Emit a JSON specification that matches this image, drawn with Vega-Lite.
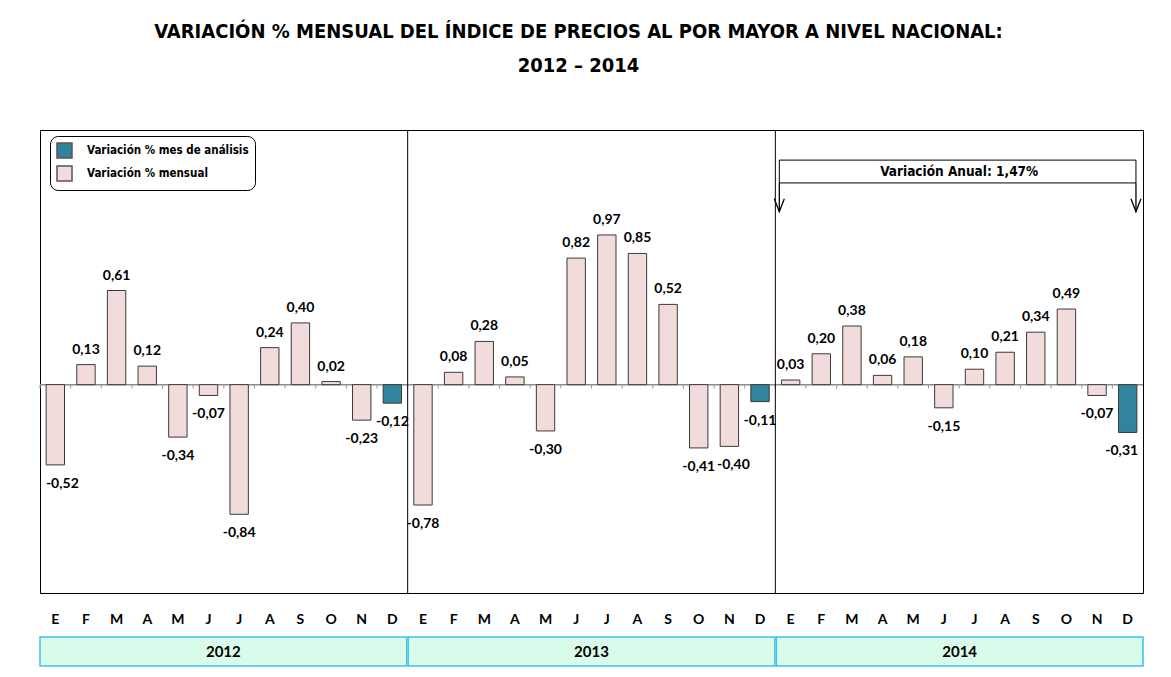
{
  "$schema": "https://vega.github.io/schema/vega-lite/v6.json",
  "padding": {"left": 38, "top": 22, "right": 28, "bottom": 5},
  "background": "white",
  "config": {
    "axisX": {"labelExpr": "['E','F','M','A','M','J','J','A','S','O','N','D'][toNumber(slice(datum.value,5))-1]",
      "ticks": false, "tickSize": 0, "domain": false, "labelAngle": 0, "grid": false,
      "labelFont": "Lato", "labelFontSize": 14, "labelFontWeight": "bold", "labelColor": "black", "labelPadding": 19}
  },
  "title": {
    "text": ["VARIACIÓN % MENSUAL DEL ÍNDICE DE  PRECIOS AL POR MAYOR A NIVEL NACIONAL:", "2012 – 2014"],
    "font": "Liberation Sans Narrow, DejaVu Sans Condensed, sans-serif",
    "fontSize": 20, "fontWeight": "bold", "lineHeight": 34, "anchor": "middle",
    "offset": 53, "dx": -13, "color": "black"
  },
  "spacing": 9,
  "vconcat": [
    {
      "width": 1103, "height": 463,
      "view": {"stroke": "black", "strokeWidth": 1},
      "layer": [
        {
          "data": {"values": [{"z": 0}]},
          "mark": {"type": "rule", "color": "#8c8c8c", "strokeWidth": 1.5},
          "encoding": {"y": {"field": "z", "type": "quantitative", "axis": null}}
        },
        {
          "data": {"name": "ipm"},
          "mark": {"type": "rule", "color": "#9a9a9a", "strokeWidth": 1},
          "encoding": {
            "x": {"field": "key", "type": "ordinal", "bandPosition": 0},
            "y": {"datum": 0, "type": "quantitative", "axis": null},
            "y2": {"datum": -0.025}
          }
        },
        {
          "data": {"name": "ipm"},
          "mark": {"type": "bar", "width": {"band": 0.6}, "stroke": "#3a3a3a", "strokeWidth": 1},
          "encoding": {
            "x": {"field": "key", "type": "ordinal", "scale": {"paddingInner": 0, "paddingOuter": 0},
              "axis": {"title": null, "labelExpr": "['E','F','M','A','M','J','J','A','S','O','N','D'][toNumber(slice(datum.value,5))-1]"}},
            "y": {"field": "v", "type": "quantitative", "scale": {"domain": [-1.35, 1.65], "nice": false, "zero": false}, "axis": null},
            "color": {"field": "tipo", "type": "nominal",
              "scale": {"domain": ["Variación % mes de análisis", "Variación % mensual"], "range": ["#31849b", "#f2dcdb"]},
              "legend": {"orient": "none", "legendX": 10, "legendY": 6, "title": null,
                "strokeColor": "black", "cornerRadius": 8, "padding": 6, "fillColor": "white",
                "labelFont": "Liberation Sans Narrow, DejaVu Sans Condensed, sans-serif", "labelFontSize": 11.5,
                "labelFontWeight": "bold", "labelColor": "black", "rowPadding": 2, "labelLimit": 300,
                "symbolType": "square", "symbolSize": 225, "symbolStrokeColor": "#555555", "symbolStrokeWidth": 1.5,
                "labelOffset": 14}}
          }
        },
        {
          "data": {"name": "ipm"},
          "mark": {"type": "text", "font": "Lato", "fontSize": 14, "fontWeight": "bold", "color": "black",
            "baseline": "middle", "dy": {"expr": "datum.v < 0 ? 19 : -15"},
            "dx": {"expr": "datum.key == '2012-01' ? 7 : datum.key == '2014-12' ? -6 : datum.key == '2013-11' ? 4 : 0"},
            "text": {"expr": "replace(replace(format(datum.v, '.2f'), '.', ','), '\u2212', '-')"}},
          "encoding": {
            "x": {"field": "key", "type": "ordinal"},
            "y": {"field": "v", "type": "quantitative", "axis": null}
          }
        },
        {
          "data": {"values": [{"key": "2013-01"}, {"key": "2014-01"}]},
          "mark": {"type": "rule", "color": "black", "strokeWidth": 1},
          "encoding": {"x": {"field": "key", "type": "ordinal", "bandPosition": 0}}
        },
        {
          "data": {"values": [{"a": "2014-01", "b": "2014-12"}]},
          "mark": {"type": "rect", "fill": "white", "stroke": "black", "strokeWidth": 1},
          "encoding": {
            "x": {"field": "a", "type": "ordinal", "bandPosition": 0.13},
            "x2": {"field": "b", "bandPosition": 0.77},
            "y": {"datum": 1.455, "type": "quantitative", "axis": null},
            "y2": {"datum": 1.307}
          }
        },
        {
          "data": {"values": [{"k": "2014-01"}]},
          "mark": {"type": "rule", "color": "black", "strokeWidth": 1.3},
          "encoding": {
            "x": {"field": "k", "type": "ordinal", "bandPosition": 0.13},
            "y": {"datum": 1.307, "type": "quantitative", "axis": null},
            "y2": {"datum": 1.12}
          }
        },
        {
          "data": {"values": [{"k": "2014-12"}]},
          "mark": {"type": "rule", "color": "black", "strokeWidth": 1.3},
          "encoding": {
            "x": {"field": "k", "type": "ordinal", "bandPosition": 0.77},
            "y": {"datum": 1.307, "type": "quantitative", "axis": null},
            "y2": {"datum": 1.12}
          }
        },
        {
          "data": {"values": [{"k": "2014-01"}]},
          "mark": {"type": "point", "shape": "M-1,-2.6L0,0L1,-2.6", "filled": false, "stroke": "black", "strokeWidth": 1.3, "size": 100, "opacity": 1},
          "encoding": {
            "x": {"field": "k", "type": "ordinal", "bandPosition": 0.13},
            "y": {"datum": 1.12, "type": "quantitative", "axis": null}
          }
        },
        {
          "data": {"values": [{"k": "2014-12"}]},
          "mark": {"type": "point", "shape": "M-1,-2.6L0,0L1,-2.6", "filled": false, "stroke": "black", "strokeWidth": 1.3, "size": 100, "opacity": 1},
          "encoding": {
            "x": {"field": "k", "type": "ordinal", "bandPosition": 0.77},
            "y": {"datum": 1.12, "type": "quantitative", "axis": null}
          }
        },
        {
          "data": {"values": [{"t": "Variación Anual: 1,47%", "k": "2014-07"}]},
          "mark": {"type": "text", "font": "Liberation Sans Narrow, DejaVu Sans Condensed, sans-serif", "fontSize": 13.5, "fontWeight": "bold", "color": "black", "baseline": "middle"},
          "encoding": {
            "x": {"field": "k", "type": "ordinal", "bandPosition": 0},
            "y": {"datum": 1.381, "type": "quantitative", "axis": null},
            "text": {"field": "t"}
          }
        }
      ]
    },
    {
      "width": 1103, "height": 29,
      "view": {"stroke": null},
      "data": {"values": [{"year": "2012"}, {"year": "2013"}, {"year": "2014"}]},
      "encoding": {"x": {"field": "year", "type": "ordinal", "scale": {"paddingInner": 0.004, "paddingOuter": 0}, "axis": null}},
      "layer": [
        {"mark": {"type": "rect", "fill": "#d9fbea", "stroke": "#40c0f0", "strokeWidth": 1.5}},
        {"mark": {"type": "text", "font": "Lato", "fontSize": 15, "fontWeight": "bold", "color": "black"},
         "encoding": {"text": {"field": "year"}}}
      ]
    }
  ],
  "datasets": {
    "ipm": [
      {"key": "2012-01", "v": -0.52, "tipo": "Variación % mensual"},
      {"key": "2012-02", "v": 0.13, "tipo": "Variación % mensual"},
      {"key": "2012-03", "v": 0.61, "tipo": "Variación % mensual"},
      {"key": "2012-04", "v": 0.12, "tipo": "Variación % mensual"},
      {"key": "2012-05", "v": -0.34, "tipo": "Variación % mensual"},
      {"key": "2012-06", "v": -0.07, "tipo": "Variación % mensual"},
      {"key": "2012-07", "v": -0.84, "tipo": "Variación % mensual"},
      {"key": "2012-08", "v": 0.24, "tipo": "Variación % mensual"},
      {"key": "2012-09", "v": 0.40, "tipo": "Variación % mensual"},
      {"key": "2012-10", "v": 0.02, "tipo": "Variación % mensual"},
      {"key": "2012-11", "v": -0.23, "tipo": "Variación % mensual"},
      {"key": "2012-12", "v": -0.12, "tipo": "Variación % mes de análisis"},
      {"key": "2013-01", "v": -0.78, "tipo": "Variación % mensual"},
      {"key": "2013-02", "v": 0.08, "tipo": "Variación % mensual"},
      {"key": "2013-03", "v": 0.28, "tipo": "Variación % mensual"},
      {"key": "2013-04", "v": 0.05, "tipo": "Variación % mensual"},
      {"key": "2013-05", "v": -0.30, "tipo": "Variación % mensual"},
      {"key": "2013-06", "v": 0.82, "tipo": "Variación % mensual"},
      {"key": "2013-07", "v": 0.97, "tipo": "Variación % mensual"},
      {"key": "2013-08", "v": 0.85, "tipo": "Variación % mensual"},
      {"key": "2013-09", "v": 0.52, "tipo": "Variación % mensual"},
      {"key": "2013-10", "v": -0.41, "tipo": "Variación % mensual"},
      {"key": "2013-11", "v": -0.40, "tipo": "Variación % mensual"},
      {"key": "2013-12", "v": -0.11, "tipo": "Variación % mes de análisis"},
      {"key": "2014-01", "v": 0.03, "tipo": "Variación % mensual"},
      {"key": "2014-02", "v": 0.20, "tipo": "Variación % mensual"},
      {"key": "2014-03", "v": 0.38, "tipo": "Variación % mensual"},
      {"key": "2014-04", "v": 0.06, "tipo": "Variación % mensual"},
      {"key": "2014-05", "v": 0.18, "tipo": "Variación % mensual"},
      {"key": "2014-06", "v": -0.15, "tipo": "Variación % mensual"},
      {"key": "2014-07", "v": 0.10, "tipo": "Variación % mensual"},
      {"key": "2014-08", "v": 0.21, "tipo": "Variación % mensual"},
      {"key": "2014-09", "v": 0.34, "tipo": "Variación % mensual"},
      {"key": "2014-10", "v": 0.49, "tipo": "Variación % mensual"},
      {"key": "2014-11", "v": -0.07, "tipo": "Variación % mensual"},
      {"key": "2014-12", "v": -0.31, "tipo": "Variación % mes de análisis"}
    ]
  }
}
